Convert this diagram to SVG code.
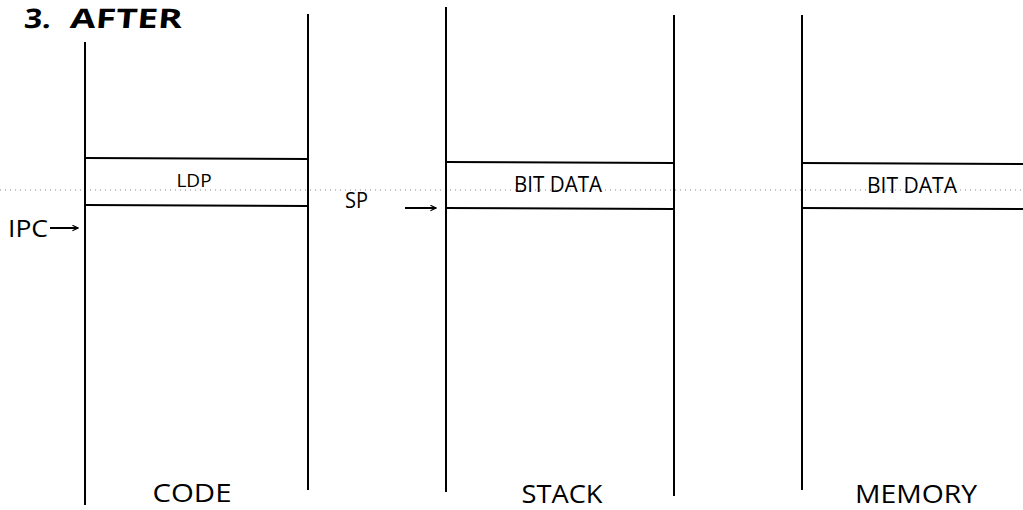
<svg xmlns="http://www.w3.org/2000/svg" width="1023" height="510" viewBox="0 0 1023 510">
<defs>
<style>
.l{stroke:#000;stroke-width:2;fill:none}
.t{font-family:"Open Sans","Liberation Sans",sans-serif;fill:#000}
.dot{stroke:#888;stroke-width:1.2;stroke-dasharray:1 4;fill:none}
</style>
<marker id="ah" viewBox="0 0 10 10" refX="9" refY="5" markerWidth="7" markerHeight="7" orient="auto" markerUnits="userSpaceOnUse">
<path d="M1,1 L9,5 L1,9" fill="none" stroke="#000" stroke-width="1.6"/>
</marker>
</defs>
<rect width="1023" height="510" fill="#fff"/>
<g transform="translate(3,0) skewX(-5)">
<text class="t" x="23" y="28" font-size="27" font-weight="bold" textLength="27" lengthAdjust="spacingAndGlyphs">3.</text>
<text class="t" x="69" y="28" font-size="27" font-weight="bold" textLength="112" lengthAdjust="spacingAndGlyphs">AFTER</text>
</g>
<line class="dot" x1="0" y1="190" x2="1023" y2="190"/>
<g id="code">
<line class="l" x1="85" y1="42" x2="85" y2="505"/>
<line class="l" x1="308" y1="14" x2="308" y2="490"/>
<line class="l" x1="85" y1="158" x2="308" y2="159"/>
<line class="l" x1="85" y1="205" x2="308" y2="206"/>
<text class="t" x="194" y="187" font-size="19" text-anchor="middle">LDP</text>
<text class="t" x="192" y="502" font-size="26" text-anchor="middle" textLength="79" lengthAdjust="spacingAndGlyphs">CODE</text>
</g>
<g id="stack">
<line class="l" x1="446" y1="7" x2="446" y2="492"/>
<line class="l" x1="674" y1="15" x2="674" y2="496"/>
<line class="l" x1="446" y1="162" x2="674" y2="163"/>
<line class="l" x1="446" y1="208" x2="674" y2="209"/>
<text class="t" x="558" y="192" font-size="21" text-anchor="middle" textLength="88" lengthAdjust="spacingAndGlyphs">BIT DATA</text>
<text class="t" x="562" y="503" font-size="26" text-anchor="middle" textLength="81" lengthAdjust="spacingAndGlyphs">STACK</text>
</g>
<g id="memory">
<line class="l" x1="802" y1="15" x2="802" y2="490"/>
<line class="l" x1="802" y1="163" x2="1023" y2="164"/>
<line class="l" x1="802" y1="208" x2="1023" y2="209"/>
<text class="t" x="912" y="193" font-size="21" text-anchor="middle" textLength="90" lengthAdjust="spacingAndGlyphs">BIT DATA</text>
<text class="t" x="916" y="503" font-size="25" text-anchor="middle" textLength="122" lengthAdjust="spacingAndGlyphs">MEMORY</text>
</g>
<g id="ipc">
<text class="t" x="8" y="237" font-size="23" textLength="40" lengthAdjust="spacingAndGlyphs">IPC</text>
</g>
<g id="sp">
<text class="t" x="345" y="208" font-size="21" textLength="23" lengthAdjust="spacingAndGlyphs">SP</text>
</g>
<g id="connectors">
<line class="l" x1="50" y1="228" x2="78" y2="228" stroke-width="1.8" marker-end="url(#ah)"/>
<line class="l" x1="405" y1="208" x2="436" y2="208" stroke-width="1.8" marker-end="url(#ah)"/>
</g>
</svg>
